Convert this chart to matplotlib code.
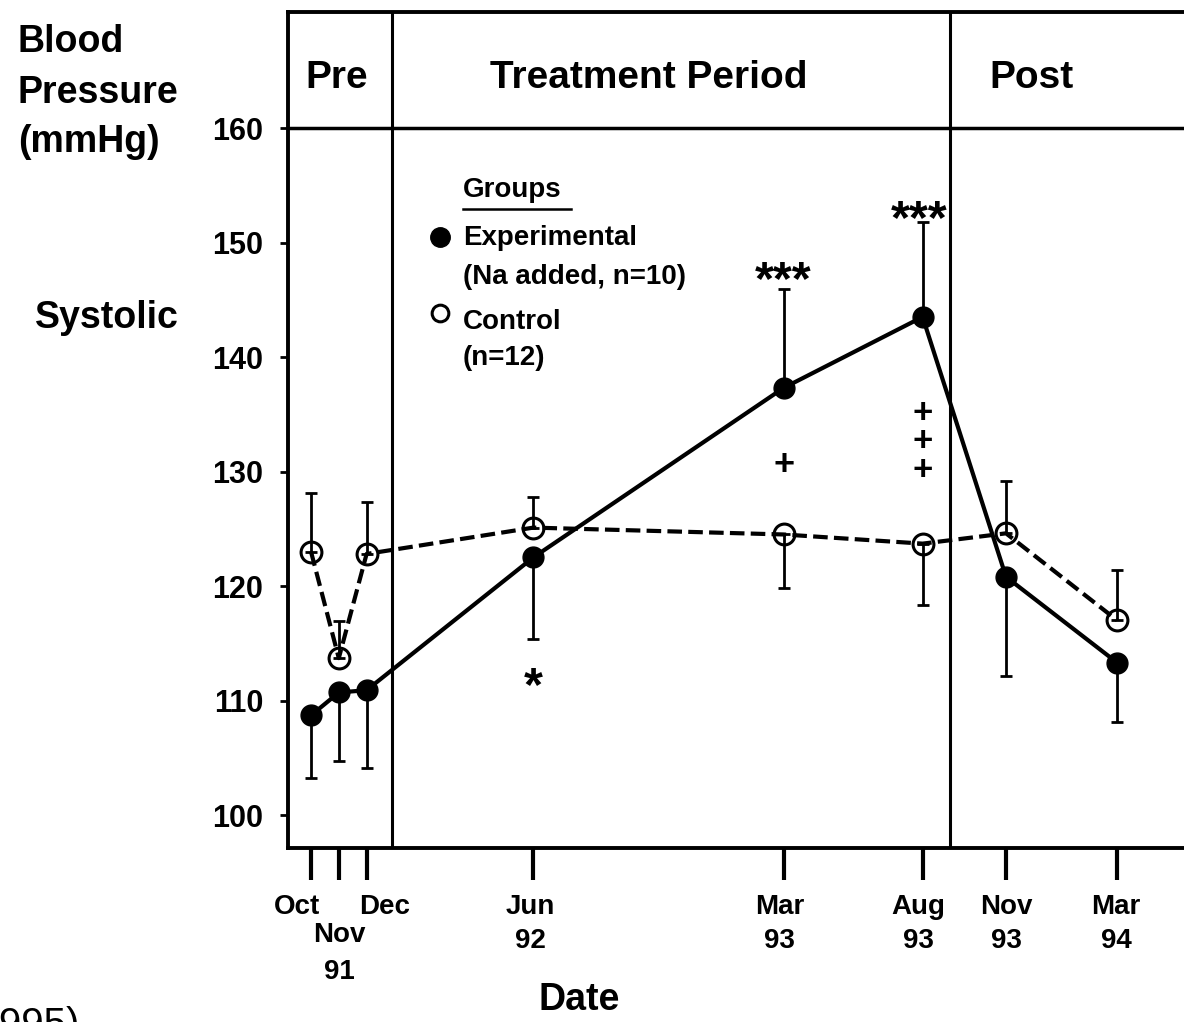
import numpy as np
import matplotlib
matplotlib.use("Agg")
import matplotlib.pyplot as plt

plt.rcParams['font.family'] = ['Liberation Sans', 'DejaVu Sans']
plt.rcParams['font.weight'] = 'bold'

# visit dates as months since Oct 1991
months = [0, 1, 2, 8, 17, 22, 25, 29]
line1 = ['Oct', 'Nov', 'Dec', 'Jun', 'Mar', 'Aug', 'Nov', 'Mar']
line2 = ['', '91', '', '92', '93', '93', '93', '94']

# systolic means and the end of the one-sided error bar (mmHg)
exp_mean = [108.7, 110.7, 110.9, 122.5, 137.3, 143.5, 120.8, 113.3]
exp_end = [103.2, 104.7, 104.1, 115.4, 145.9, 151.8, 112.1, 108.1]
ctrl_mean = [123.0, 113.7, 122.8, 125.1, 124.5, 123.7, 124.6, 117.0]
ctrl_end = [128.1, 116.9, 127.3, 127.8, 119.8, 118.3, 129.2, 121.4]

# period boundaries (months)
pre_end = 2.91
treat_end = 23.0

W, H = 1184, 1022
fig = plt.figure(figsize=(W / 100, H / 100), dpi=100)
ax = fig.add_axes([288 / W, (H - 848) / H, (1200 - 288) / W, (848 - 12) / H])

px_per_month = 27.8
x0 = 311
ax.set_xlim((288 - x0) / px_per_month, (1200 - x0) / px_per_month)
ax.set_ylim(160 - (848 - 128) / 11.45, 160 + (128 - 12) / 11.45)


def one_sided(mean, end):
    mean = np.array(mean)
    end = np.array(end)
    lower = np.clip(mean - end, 0, None)
    upper = np.clip(end - mean, 0, None)
    return [lower, upper]


ax.errorbar(months, exp_mean, yerr=one_sided(exp_mean, exp_end), fmt='none',
            ecolor='black', elinewidth=2, capsize=4, capthick=2, zorder=2)
ax.errorbar(months, ctrl_mean, yerr=one_sided(ctrl_mean, ctrl_end), fmt='none',
            ecolor='black', elinewidth=2, capsize=4, capthick=2, zorder=2)

ax.plot(months, exp_mean, color='black', lw=3, marker='o', ms=15,
        mfc='black', mec='black', zorder=4)
ax.plot(months, ctrl_mean, color='black', lw=3, dashes=(3.5, 1.5), marker='o',
        ms=15, mfc='none', mec='black', mew=2.2, zorder=3)

# period dividers
ax.axhline(160, color='black', lw=2.5)
ax.axvline(pre_end, color='black', lw=2.2)
ax.axvline(treat_end, color='black', lw=2.2)

hdr = dict(fontsize=28, ha='center', va='center', fontweight='bold')
ax.text((337 - x0) / px_per_month, 164.4, 'Pre', **hdr)
ax.text((649 - x0) / px_per_month, 164.4, 'Treatment Period', **hdr)
ax.text((1032 - x0) / px_per_month, 164.4, 'Post', **hdr)

# significance marks
star = dict(ha='center', va='top', fontsize=35, fontweight='bold')
ax.text(8, 113.1, '*', **star)
ax.text(17, 148.6, '***', **star)
ax.text(21.87, 153.9, '***', **star)
ax.text(17, 130.5, '+', ha='center', va='center', fontsize=26)
ax.text(22, 132.6, '+\n+\n+', ha='center', va='center', fontsize=25,
        linespacing=0.82)

# legend block
lx = (463 - x0) / px_per_month
mx = (440 - x0) / px_per_month
leg = dict(fontsize=20, ha='left', va='center', fontweight='bold')
ax.text(lx, 154.6, 'Groups', **leg)
ax.plot([lx, lx + 3.9], [152.9, 152.9], color='black', lw=1.8)
ax.plot([mx], [150.5], 'o', ms=14, color='black')
ax.text(lx, 150.4, 'Experimental', **leg)
ax.text(lx, 147.0, '(Na added, n=10)', **leg)
ax.plot([mx], [143.8], 'o', ms=12, mfc='none', mec='black', mew=2.2)
ax.text(lx, 143.1, 'Control', **leg)
ax.text(lx, 139.9, '(n=12)', **leg)

# axes styling
for side in ['top', 'left', 'bottom']:
    ax.spines[side].set_linewidth(2.8)
ax.spines['right'].set_visible(False)

ax.set_yticks([100, 110, 120, 130, 140, 150, 160])
ax.tick_params(axis='y', direction='out', length=6, width=2, labelsize=22, pad=12)
for lab in ax.get_yticklabels():
    lab.set_fontweight('bold')

ax.set_xticks(months)
ax.set_xticklabels([])
ax.tick_params(axis='x', direction='out', length=23, width=3)

# two-line date labels under the ticks
offsets = [-14, 1, 18, -3, -4, -4, 0, -1]
for m, a, b, off in zip(months, line1, line2, offsets):
    xp = x0 + px_per_month * m + off
    if a == 'Nov' and b == '91':
        fig.text(xp / W, (H - 935) / H, a, ha='center', va='center', fontsize=20)
        fig.text(xp / W, (H - 972) / H, b, ha='center', va='center', fontsize=20)
    else:
        fig.text(xp / W, (H - 907) / H, a, ha='center', va='center', fontsize=20)
        if b:
            fig.text(xp / W, (H - 941) / H, b, ha='center', va='center', fontsize=20)

fig.text(579 / W, (H - 1000) / H, 'Date', ha='center', va='center', fontsize=27)

ylab = dict(ha='left', va='center', fontsize=27)
fig.text(18 / W, (H - 42) / H, 'Blood', **ylab)
fig.text(18 / W, (H - 93) / H, 'Pressure', **ylab)
fig.text(18 / W, (H - 142) / H, '(mmHg)', **ylab)
fig.text(35 / W, (H - 318) / H, 'Systolic', **ylab)

fig.text(80 / W, -14 / H, '(1995)', ha='right', va='baseline', fontsize=29,
         fontweight='normal')

fig.savefig('out.png', dpi=100)
